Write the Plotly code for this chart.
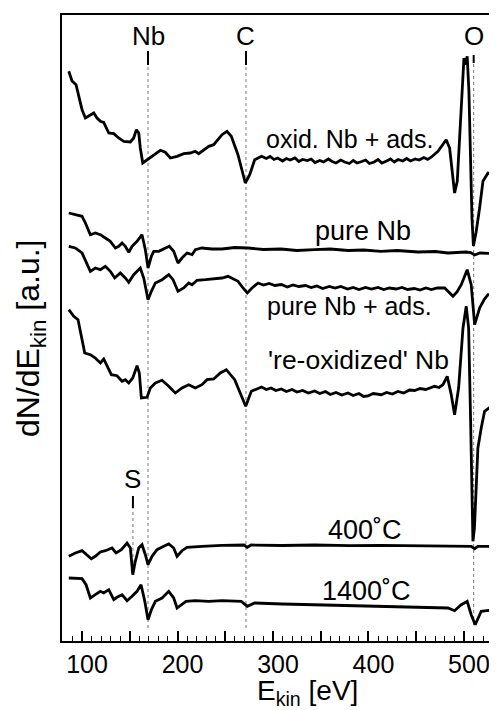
import plotly.graph_objects as go

# ---------------- data (E in eV, signal in arbitrary units, curves vertically offset) ----------------
E_oxid = [86.1, 89.5, 93.7, 96.5, 100, 103.5, 107, 112.3, 115.7, 119.2, 122.7, 128, 133.2, 138.4, 143.7,
          150.6, 154.1, 156.9, 159.4, 161, 163.6, 168.1, 173.3, 178.5, 182, 187.2, 192.5, 199.5, 206.5,
          213.4, 218.6, 222.2, 227.4, 232.7, 237.9, 243.1, 246.6, 251.8, 256.3, 263.3, 266.8, 271, 275.6,
          280.8, 288, 293, 297, 301, 305, 310, 314, 318, 323, 327, 331, 336, 340, 344, 349, 353, 358,
          362, 366, 371, 375, 380, 384, 388, 393, 397, 401, 406, 410, 414, 419, 423, 427, 431, 436, 440,
          444, 449, 453, 458, 462, 466, 472.8, 478, 481.4, 485, 487.7,
          490.2, 493, 495.5, 497.9, 500, 501.8, 503.4, 505.2, 507, 508.4, 509.9, 512.6, 516.4, 519.9,
          525.1, 532.1, 537.4, 542.6]
Y_oxid = [569.7, 560, 556.3, 545, 531.3, 523, 525, 528, 523, 519.7, 518.7, 508, 507.3, 503, 499.7,
          499, 503, 511.3, 508, 493, 478, 481.3, 484.7, 488.7, 490.7, 488.7, 483, 484.7, 487.3,
          488, 489.7, 487.3, 491.3, 494.7, 496.3, 503, 506.3, 509.7, 504.7, 486.3, 473, 458, 466.3,
          481.3, 484.7, 482.5, 484.5, 481.5, 483, 480, 482.5, 481, 483, 479.5, 481.5, 480.5, 482, 478.5,
          480.5, 479, 482, 479.5, 478, 481, 479, 477.5, 480.5, 478, 479.5, 481, 477.5, 479, 481.5, 478,
          480, 482, 479, 481.5, 480, 482.5, 480, 482, 481, 483.5, 481.5, 484,
          489.7, 496.3, 501.3, 493, 466.3, 448, 459.7, 499.7, 539.7, 583, 576.3, 584.7, 549.7, 466.3,
          423, 395, 408, 433, 459.7, 468, 466.3, 463, 464.7]

E_pure = [86.1, 93, 100, 103.5, 108.7, 113.9, 119.2, 124.4, 129.6, 134.9, 138.4, 141.9, 145.3, 148.9,
          152.4, 157.6, 162.8, 166.3, 169.1, 172.6, 175.1, 180.3, 185.5, 191.4, 196, 200.5, 204.7, 209.9,
          215.2, 218.6, 225.6, 236.1, 246.6, 260, 273.8, 290, 308.4, 325, 343.7, 360, 378.5, 395, 413.1,
          430, 451.9, 470, 483.2, 495, 502.1, 507, 511.2, 516.8, 528, 542.6]
Y_pure = [428, 426.3, 424.7, 418, 406.3, 408, 406.3, 403, 399.7, 393, 394.7, 398, 394.7, 388.7,
          394.7, 399.7, 406.3, 391.3, 373, 384.7, 389.7, 389.7, 392, 394.7, 389.7, 378, 383, 388,
          386.3, 391.3, 393, 392, 392, 393.5, 393, 391.5, 392, 390.5, 391.3, 392, 390.5, 391, 389.7,
          390.5, 389, 389.5, 388, 389, 389, 388.5, 386, 388, 387.5, 387]

E_pure_ads = [86.1, 93, 100, 105.2, 108.7, 113.9, 119.2, 124.4, 129.6, 134.2, 140.1, 145.3, 148.9, 154.1,
              161, 164.6, 169.1, 172.6, 176.8, 183.8, 190.8, 195.3, 200.5, 206.5, 211.7, 215.2, 220.4,
              229.1, 239.6, 246.6, 252.9, 263.4, 268.6, 273.1, 278, 284.3, 290, 296, 302, 308.7, 315,
              321, 327, 334, 340, 346, 352, 359, 365, 371, 378, 384, 390, 397, 403, 410, 416, 422, 429,
              435, 441, 448, 454, 460, 466, 472, 479.8, 484.3, 488.5, 492.7, 497.2, 503.4, 507.6, 511.2,
              516.4, 520.9, 525.1, 533, 542.6]
Y_pure_ads = [394.7, 393, 388, 376.3, 369.7, 373, 371.3, 374.7, 369.7, 363, 368, 363, 358.7, 366.3,
              373, 363, 341.3, 349.7, 358, 361.3, 366.3, 361.3, 349.7, 353, 358, 356.3, 360.7,
              361.3, 362, 363, 364.7, 359.7, 353, 348, 353, 358, 356, 357.5, 355.5, 356.5, 354,
              356, 354.5, 355.5, 353.5, 355, 352.5, 354.5, 353, 354.5, 352, 353.5, 351.5, 353.5, 352,
              353.5, 351.5, 353, 352, 353.5, 351.5, 352.5, 351, 353, 351.5, 353, 353, 349, 344.7, 349,
              356.3, 371.3, 356.3, 316.3, 333, 341, 346.3, 346, 347]

E_reox = [86.1, 91.3, 95.8, 98.2, 100.7, 102.8, 108.7, 113.9, 119.2, 122.7, 126.2, 130.7, 136.6, 141.9,
          145.3, 148.9, 153.1, 157.6, 160, 162.1, 168.1, 171.5, 176.8, 183.8, 190.8, 197.7, 204.7, 211.7,
          218.6, 225.6, 230.9, 237.9, 244.8, 251.1, 259.9, 266.8, 271.4, 277.3, 283, 288, 293, 298, 303,
          308.7, 314, 320, 325, 331, 337, 343.7, 349, 355, 360, 366, 372, 378.5, 384, 390, 395, 399.5,
          405, 413.4, 419, 425, 430.9, 437, 443, 448.4, 454, 460, 469.3, 474, 478, 482.5, 486.7, 490.2,
          494.4, 499, 502.4, 504.9, 507, 508.4, 509.4, 511, 512.9, 514.6, 518.1, 521.6, 528.6, 535, 542.6]
Y_reox = [331.3, 324.7, 321.3, 311.3, 298, 288, 286.3, 283, 278, 282, 274.7, 266.3, 265.3, 259.7,
          261.3, 258, 263, 275.3, 268, 243, 243.7, 253, 258, 260.7, 254.7, 248, 253, 256.3,
          253, 256.3, 261.3, 262, 268, 271.3, 261.3, 244.7, 234.7, 249.7, 252, 254, 251.5, 253, 250.5,
          252, 249.5, 251.5, 249, 250.5, 248, 250, 247.5, 249.5, 246.5, 248.5, 246, 248, 245.5, 247.5,
          244.5, 245, 247.5, 246.3, 248.5, 247, 249.5, 248, 251, 250.5, 252.5, 251.5, 254.7, 253.5,
          256.3, 264.7, 246.3, 226.3,
          253, 313, 334.7, 313, 219.7, 153, 99.7, 113, 163, 193, 213, 229.7, 234.7, 233.5, 233]

E_400 = [86.1, 93, 100, 105.2, 109.7, 113.9, 119.2, 124.4, 128, 131.4, 135.6, 141.2, 147.1, 150.6,
         153.1, 155.8, 159.4, 162.8, 166.3, 169.1, 173.3, 178.5, 185.5, 190.8, 196, 199.5, 204.7, 209.9,
         225.6, 246.6, 269.6, 273.1, 277, 310, 343.7, 380, 413.4, 450, 490, 507.6, 511.2, 514.6, 542.6]
Y_400 = [84.7, 88, 90.3, 86.3, 82.3, 84.7, 89, 90.3, 91.3, 93, 88, 91.3, 98, 93,
         66.3, 79.7, 93, 96.3, 86.3, 76.3, 84.7, 91.3, 94.7, 97, 93, 84.7, 90.3, 93.7,
         94.7, 95.7, 96, 93.7, 96, 95.5, 96, 95.3, 95.7, 95.2, 95, 94.7, 92.3, 94.7, 94.7]

E_1400 = [86.1, 93, 100, 104.2, 108.7, 113.9, 119.2, 122.7, 128, 133.2, 136.6, 141.9, 147.1, 152.4,
          157.6, 161.8, 165.7, 169.1, 172.6, 176.8, 183.8, 190.8, 196, 199.5, 204.7, 208.9, 218.6, 232.7,
          246.6, 266.8, 273.1, 280.8, 310, 343.7, 380, 413.4, 450, 483.2, 490.2, 496.8, 503.4, 507.6,
          511.8, 518.1, 530, 542.6]
Y_1400 = [63, 62.3, 62.3, 56.3, 43, 46.3, 49.7, 48, 51.3, 41.3, 43.7, 46.3, 40.3, 44.7,
          49.7, 56.3, 39.7, 21.3, 31.3, 39.7, 43, 49.7, 43, 33, 36.3, 39.7, 40.3, 39.7,
          40.3, 39.7, 34.7, 38, 37, 36.3, 35.5, 34.7, 34, 33, 30.3, 36, 39.7, 26.3,
          16.3, 29.7, 31, 31.3]

# curve labels: text, energy, signal
CURVE_LABELS = ["oxid. Nb + ads.", "pure Nb", "pure Nb + ads.", "'re-oxidized' Nb", "400˚C", "1400˚C"]
CURVE_LABEL_E = [380.6, 394, 380.3, 389.7, 396, 398.4]
CURVE_LABEL_Y = [502, 410, 335, 281, 111, 50]
CURVE_LABEL_SIZE = [25, 27, 25, 26.5, 27, 27]

# element markers: label, energy, dotted-line extent (signal)
PEAK_NAMES = ["Nb", "C", "O", "S"]
PEAK_E = [169.1, 271.7, 510.2, 153.3]
PEAK_LABEL_Y = [605, 605, 605.5, 162]
PEAK_BAR_TOP = [590, 590, 586, 145]
PEAK_BAR_BOT = [576, 576, 578, 133]
PEAK_LINE_BOT = [13, 13, 16, 66]

X_TICKS = [100, 150, 200, 250, 300, 350, 400, 450, 500, 550]
X_TICKTEXT = ["100", "", "200", "", "300", "", "400", "", "500", ""]

FONT = "Liberation Sans, Arial, Helvetica, sans-serif"

fig = go.Figure()
for xs, ys in [(E_oxid, Y_oxid), (E_pure, Y_pure), (E_pure_ads, Y_pure_ads),
               (E_reox, Y_reox), (E_400, Y_400), (E_1400, Y_1400)]:
    fig.add_trace(go.Scatter(x=xs, y=ys, mode="lines",
                             line=dict(color="black", width=2.8, shape="linear"),
                             showlegend=False, hoverinfo="skip"))

# dotted guide lines and short bars
for e, ltop, lbot, btop, bbot in zip(PEAK_E, PEAK_BAR_BOT, PEAK_LINE_BOT, PEAK_BAR_TOP, PEAK_BAR_BOT):
    fig.add_shape(type="line", x0=e, x1=e, y0=lbot, y1=ltop, xref="x", yref="y",
                  line=dict(color="#777777", width=1, dash="dot"), layer="below")
    fig.add_shape(type="line", x0=e, x1=e, y0=bbot, y1=btop, xref="x", yref="y",
                  line=dict(color="black", width=2))

annotations = []
for name, e, y in zip(PEAK_NAMES, PEAK_E, PEAK_LABEL_Y):
    annotations.append(dict(x=e, y=y, xref="x", yref="y", text=name, showarrow=False,
                            font=dict(family=FONT, size=26, color="black"),
                            xanchor="center", yanchor="middle"))
for t, e, y, s in zip(CURVE_LABELS, CURVE_LABEL_E, CURVE_LABEL_Y, CURVE_LABEL_SIZE):
    annotations.append(dict(x=e, y=y, xref="x", yref="y", text=t, showarrow=False,
                            font=dict(family=FONT, size=s, color="black"),
                            xanchor="center", yanchor="middle"))
annotations.append(dict(x=0.555, y=-0.113, xref="paper", yref="paper",
                        text="E<sub>kin</sub> [eV]", showarrow=False,
                        font=dict(family=FONT, size=28, color="black"),
                        xanchor="center", yanchor="bottom"))
annotations.append(dict(x=-0.072, y=0.484, xref="paper", yref="paper",
                        text="dN/dE<sub>kin</sub> [a.u.]", showarrow=False, textangle=-90,
                        font=dict(family=FONT, size=32, color="black"),
                        xanchor="center", yanchor="middle"))

fig.update_layout(
    width=497, height=710,
    margin=dict(l=54, r=0, t=7, b=77),
    paper_bgcolor="white", plot_bgcolor="white",
    annotations=annotations,
    xaxis=dict(range=[79, 543], showgrid=False, zeroline=False,
               showline=True, linecolor="black", linewidth=2, mirror=True,
               ticks="inside", ticklen=10, tickwidth=1.5, tickcolor="black",
               tickvals=X_TICKS, ticktext=X_TICKTEXT, ticklabelshift=5,
               tickfont=dict(family=FONT, size=25, color="black"),
               minor=dict(ticks="inside", ticklen=5, tickwidth=1.2, tickcolor="black",
                          tick0=0, dtick=10, showgrid=False)),
    yaxis=dict(range=[0, 626], showgrid=False, zeroline=False,
               showline=True, linecolor="black", linewidth=2, mirror=False,
               showticklabels=False, ticks=""),
)

fig.write_html("out.html")
